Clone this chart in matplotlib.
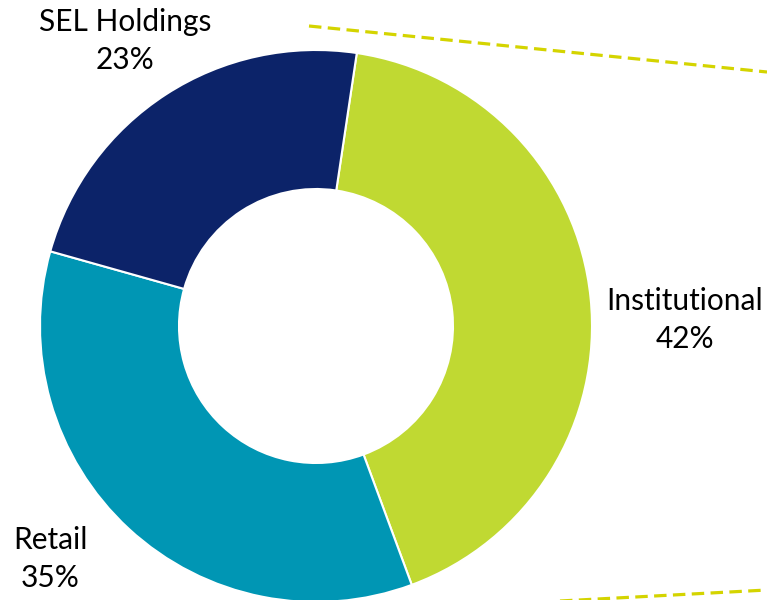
import matplotlib
matplotlib.use("Agg")
import matplotlib.pyplot as plt

# shareholder breakdown
labels = ["Institutional", "Retail", "SEL Holdings"]
shares = [42, 35, 23]
colors = ["#C0D932", "#0096B4", "#0C2369"]

W, H = 767, 600

fig = plt.figure(figsize=(W / 100, H / 100), dpi=100)
ax = fig.add_axes([0, 0, 1, 1])

cx, cy = 316, H - 326
r_out = 276
r_in = 137

ax.pie(shares, colors=colors, center=(cx, cy), radius=r_out,
       startangle=81.5, counterclock=False,
       wedgeprops=dict(width=r_out - r_in, edgecolor="white", linewidth=1.5))

# dashed guide lines to the right
guide = "#D4D400"
dash = (0, (3.9, 2.0))
ax.plot([309, 767], [H - 26, H - 72], color=guide, lw=2.3, ls=dash)
ax.plot([560, 767], [H - 601, H - 590], color=guide, lw=2.3, ls=dash)

font = dict(family=["Lato", "DejaVu Sans"], fontsize=21.5, color="black",
            ha="center", va="center", linespacing=1.45)
label_pos = {"SEL Holdings": (125, 41), "Institutional": (685, 320), "Retail": (50, 559)}
for name, val in zip(labels, shares):
    x, y = label_pos[name]
    ax.text(x, H - y, f"{name}\n{val}%", **font)

ax.set_xlim(0, W)
ax.set_ylim(0, H)
ax.set_aspect("equal")
ax.axis("off")

fig.savefig("out.png", dpi=100)
